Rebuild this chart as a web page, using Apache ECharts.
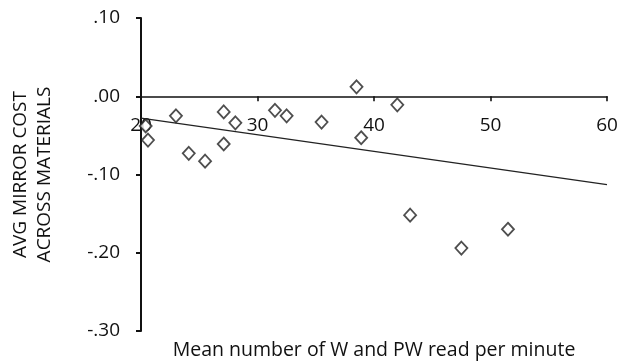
<!DOCTYPE html>
<html>
<head>
<meta charset="utf-8">
<script src="https://cdn.jsdelivr.net/npm/echarts@6/dist/echarts.min.js"></script>
<style>
  html, body { margin: 0; padding: 0; background: #fff; }
  #chart { width: 621px; height: 361px; }
</style>
</head>
<body>
<div id="chart"></div>
<script>
// words read per minute (x) and mirror cost (y)
var wpm  = [20.4, 20.6, 23.0, 24.1, 25.5, 27.1, 27.1, 28.1, 31.5, 32.5, 35.5, 38.5, 38.9, 42.0, 43.1, 47.5, 51.5];
var cost = [-0.038, -0.056, -0.025, -0.073, -0.083, -0.020, -0.061, -0.034, -0.018, -0.025, -0.033, 0.012, -0.053, -0.011, -0.152, -0.194, -0.170];

// linear trend, ends at x=20 and x=60
var trendX = [20, 60];
var trendY = [-0.028, -0.113];

var xTicks = [20, 30, 40, 50, 60];
var yTicks = [0.10, 0.00, -0.10, -0.20, -0.30];

var font = 'Open Sans';

var points = [];
for (var i = 0; i < wpm.length; i++) points.push([wpm[i], cost[i]]);
var trend = [];
for (var j = 0; j < trendX.length; j++) trend.push([trendX[j], trendY[j]]);

function fmtY(v) {
  var s = Math.abs(v).toFixed(2).replace(/^0/, '');
  return (v < -0.001 ? '-' : '') + s;
}

// plot box
var gTop = 18, gBottom = 30, gHeight = 361 - gTop - gBottom;
var yMin = yTicks[yTicks.length - 1], yMax = yTicks[0];
// the x axis sits on y = 0, so lift it from the bottom edge
var zeroLift = gHeight * (0 - yMin) / (yMax - yMin);

var chart = echarts.init(document.getElementById('chart'));
var option = {
  animation: false,
  grid: { left: 141, right: 14, top: gTop, bottom: gBottom },
  xAxis: [{
    type: 'value',
    min: xTicks[0], max: xTicks[xTicks.length - 1], interval: 10,
    position: 'bottom',
    offset: -zeroLift,
    axisLine: { onZero: false, lineStyle: { color: '#111', width: 1.6 } },
    axisTick: { show: true, length: 5, inside: false, lineStyle: { color: '#111', width: 1.6 } },
    axisLabel: { color: '#111', fontFamily: font, fontSize: 19, margin: 20 },
    splitLine: { show: false }
  }, {
    type: 'value',
    position: 'top',
    min: xTicks[0], max: xTicks[xTicks.length - 1],
    axisLine: { show: false, onZero: false }, axisTick: { show: false }, axisLabel: { show: false },
    splitLine: { show: false }
  }],
  yAxis: {
    type: 'value',
    min: yMin, max: yMax, interval: 0.1,
    axisLine: { show: true, onZero: false, lineStyle: { color: '#111', width: 2 } },
    axisTick: { show: true, length: 5, lineStyle: { color: '#111', width: 2 } },
    axisLabel: { color: '#111', fontFamily: font, fontSize: 19, margin: 21, formatter: fmtY },
    splitLine: { show: false },
    name: 'AVG MIRROR COST\nACROSS MATERIALS',
    nameLocation: 'middle', nameGap: 84,
    nameTextStyle: { color: '#111', fontFamily: font, fontSize: 19, lineHeight: 24 }
  },
  graphic: [{
    type: 'text',
    x: 374, y: 350,
    style: {
      text: 'Mean number of W and PW read per minute', fill: '#111',
      font: '19.5px "Open Sans"', align: 'center', verticalAlign: 'middle'
    }
  }],
  series: [{
    type: 'scatter',
    data: points,
    symbol: 'diamond',
    symbolSize: [12, 13],
    itemStyle: { color: '#fff', borderColor: '#222', borderWidth: 1.8 },
    z: 3
  }, {
    type: 'line',
    data: trend,
    showSymbol: false,
    lineStyle: { color: '#222', width: 1.3 },
    z: 2
  }]
};
chart.setOption(option);
</script>
</body>
</html>
